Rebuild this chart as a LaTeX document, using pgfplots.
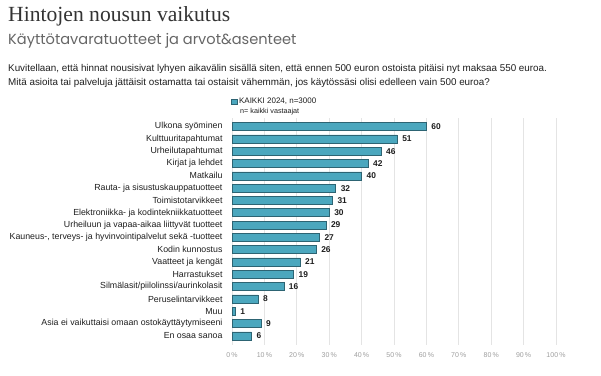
\documentclass[border=0pt]{standalone}
\usepackage{pgfplots}
\pgfplotsset{compat=1.18}
\usepackage{fontspec}
\setmainfont{Liberation Sans}
\newfontfamily\narrow{Liberation Sans}
\newfontfamily\titlefont{Liberation Serif}
\newfontfamily\subfont{Poppins}
\definecolor{barfill}{RGB}{75,167,190}
\definecolor{barline}{RGB}{45,100,115}
\definecolor{txt}{RGB}{30,30,30}
\definecolor{gridc}{RGB}{228,228,228}
\begin{document}
\begin{tikzpicture}
\useasboundingbox (0pt,0pt) rectangle (601pt,375pt);
\node[anchor=base west,inner sep=0,text=black!80] at (8pt,353pt) {\titlefont\fontsize{21.6}{24}\selectfont Hintojen nousun vaikutus};
\node[anchor=base west,inner sep=0,text=black!60] at (8pt,330pt) {\subfont\fontsize{14.6}{16}\selectfont Käyttötavaratuotteet ja arvot\&asenteet};
\node[anchor=base west,inner sep=0,text=txt] at (8pt,303pt) {\narrow\fontsize{9.85}{12}\selectfont Kuvitellaan, että hinnat nousisivat lyhyen aikavälin sisällä siten, että ennen 500 euron ostoista pitäisi nyt maksaa 550 euroa.};
\node[anchor=base west,inner sep=0,text=txt] at (8pt,289pt) {\narrow\fontsize{9.85}{12}\selectfont Mitä asioita tai palveluja jättäisit ostamatta tai ostaisit vähemmän, jos käytössäsi olisi edelleen vain 500 euroa?};
\node[anchor=base west,inner sep=0,text=txt] at (240pt,261pt) {\narrow\fontsize{7.2}{8}\selectfont n= kaikki vastaajat};
\begin{axis}[
  at={(232pt,30pt)}, anchor=south west,
  scale only axis, width=324pt, height=227pt,
  xbar, bar width=8pt,
  xmin=0, xmax=100, ymin=-0.7, ymax=17.75,
  y dir=reverse,
  axis line style={draw=none},
  xtick={0,10,...,100},
  xticklabel={\pgfmathprintnumber{\tick}\,\%},
  xticklabel style={font=\narrow\fontsize{7}{8}\selectfont, text=black!38, yshift=-4pt},
  /pgf/number format/assume math mode=true,
  xmajorgrids, major grid style={gridc, line width=0.8pt},
  major tick length=0pt,
  ytick=data,
  yticklabels={Ulkona syöminen,Kulttuuritapahtumat,Urheilutapahtumat,Kirjat ja lehdet,Matkailu,Rauta- ja sisustuskauppatuotteet,Toimistotarvikkeet,Elektroniikka- ja kodintekniikkatuotteet,Urheiluun ja vapaa-aikaa liittyvät tuotteet,{Kauneus-, terveys- ja hyvinvointipalvelut sekä -tuotteet},Kodin kunnostus,Vaatteet ja kengät,Harrastukset,Silmälasit/piilolinssi/aurinkolasit,Peruselintarvikkeet,Muu,Asia ei vaikuttaisi omaan ostokäyttäytymiseeni,En osaa sanoa},
  yticklabel style={font=\narrow\fontsize{8.8}{10}\selectfont, text=txt, xshift=-6pt},
  nodes near coords,
  nodes near coords style={font=\narrow\bfseries\fontsize{8.4}{9}\selectfont, text=txt, anchor=west, xshift=1.5pt},
  legend style={at={(0,1)}, anchor=south west, yshift=11pt, xshift=-1pt, draw=none, fill=none, inner sep=0pt, font=\narrow\fontsize{8}{9}\selectfont, text=txt},
  legend image code/.code={\draw[barline,fill=barfill,line width=0.4pt] (0pt,-2.5pt) rectangle (5.5pt,2.5pt);},
]
\addplot[fill=barfill, draw=barline, line width=0.5pt] coordinates {
(60,0) (51,1) (46,2) (42,3) (40,4) (32,5) (31,6) (30,7) (29,8) (27,9)
(26,10) (21,11) (19,12) (16,13) (8,14) (1,15) (9,16) (6,17)};
\addlegendentry{KAIKKI 2024, n=3000}
\end{axis}
\end{tikzpicture}
\end{document}
